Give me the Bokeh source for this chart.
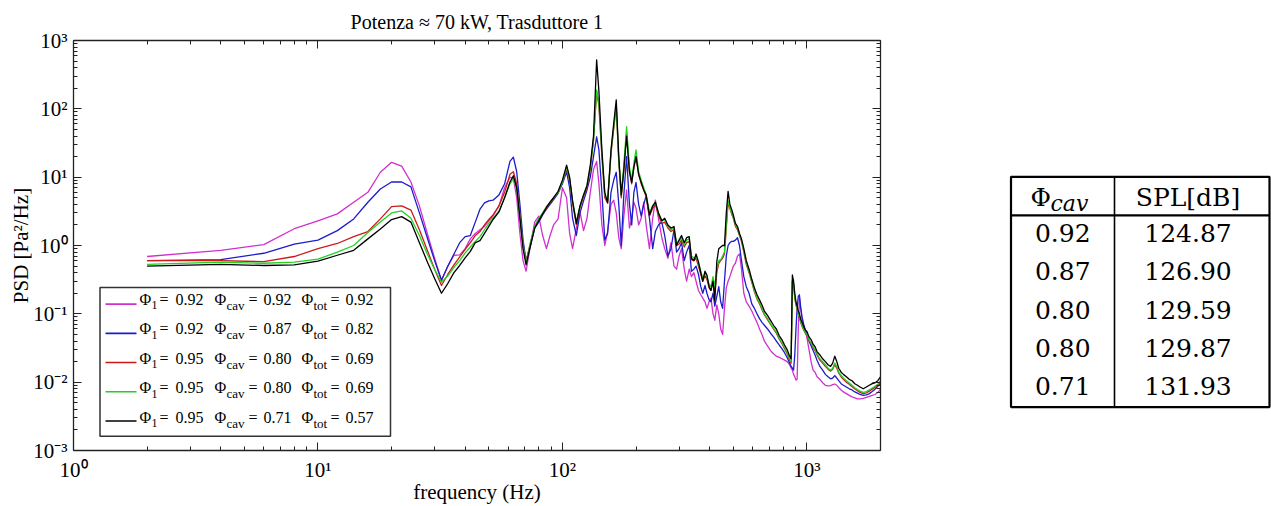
from math import pi, sqrt
from bokeh.plotting import figure
from bokeh.models import Range1d, LogAxis, FixedTicker, Label, CustomJSTickFormatter
from bokeh.layouts import row
from bokeh.embed import file_html
from bokeh.resources import INLINE
from bokeh.core.properties import value

# ---------------- data ----------------
freq = [2, 4, 6, 8, 10, 12, 14, 16, 18, 20,
        22, 24, 26, 28, 30, 32, 34, 36, 38, 40,
        42, 44, 46, 48, 50, 52, 55, 58, 61, 63,
        65, 67, 69, 71, 74, 77, 80, 83, 86, 89,
        92, 96, 100, 104, 107, 110, 114, 118, 122, 126,
        130, 134, 138, 141, 145, 149, 153, 158, 162, 166,
        170, 174, 178, 183, 188, 192, 196, 200, 205, 210,
        215, 220, 227, 234, 240, 247, 255, 262, 270, 278,
        286, 293, 300, 307, 315, 322, 330, 337, 345, 352,
        360, 368, 375, 383, 390, 398, 405, 413, 420, 428,
        436, 444, 452, 460, 468, 476, 484, 492, 500, 510,
        520, 530, 540, 552, 565, 580, 595, 610, 625, 640,
        655, 670, 690, 710, 730, 750, 770, 790, 810, 830,
        850, 862, 872, 882, 892, 902, 912, 922, 932, 942,
        955, 970, 985, 1000, 1020, 1040, 1060, 1080, 1100, 1130,
        1160, 1190, 1220, 1250, 1275, 1300, 1325, 1350, 1380, 1410,
        1450, 1490, 1530, 1570, 1610, 1650, 1700, 1750, 1800, 1850,
        1900, 1950, 2000]

psd_magenta = [0.69, 0.85, 1.03, 1.76, 2.3, 2.9, 4.3, 6.0, 11.8, 16.5,
               14.5, 8.5, 3.8, 1.5, 0.65, 0.31, 0.5, 0.72, 0.73, 0.9,
               1.25, 1.5, 1.7, 1.9, 2.3, 2.7, 3.8, 7, 10, 9.5,
               5, 1.5, 0.6, 0.42, 1.0, 2.2, 2.7, 1.4, 0.9, 1.4,
               2.0, 2.45, 7.0, 5.0, 1.5, 0.9, 1.8, 3.1, 1.65, 2.5,
               6, 13, 17, 8, 2, 1.0, 1.6, 4.0, 4.6, 3.0,
               1.3, 0.9, 2.5, 6.5, 1.8, 2.5, 4.3, 3.5, 2.0, 2.5,
               4.3, 2.0, 0.9, 2.5, 4.6, 2.5, 1.3, 0.9, 0.65, 1.1,
               0.5, 0.45, 0.7, 0.9, 0.45, 0.3, 0.45, 0.35, 0.4, 0.3,
               0.22, 0.19, 0.17, 0.15, 0.12, 0.15, 0.17, 0.1, 0.08, 0.135,
               0.1, 0.06, 0.05, 0.12, 0.24, 0.3, 0.35, 0.42, 0.5, 0.55,
               0.7, 0.75, 0.45, 0.2, 0.15, 0.13, 0.11, 0.09, 0.075, 0.06,
               0.05, 0.04, 0.034, 0.029, 0.026, 0.024, 0.023, 0.022, 0.021, 0.02,
               0.018, 0.016, 0.015, 0.013, 0.012, 0.0107, 0.011, 0.06, 0.17, 0.12,
               0.085, 0.068, 0.058, 0.045, 0.03, 0.02, 0.015, 0.014, 0.012, 0.011,
               0.0098, 0.009, 0.0088, 0.0089, 0.0092, 0.0094, 0.009, 0.0083, 0.0077, 0.0072,
               0.0068, 0.0064, 0.0061, 0.0059, 0.0057, 0.0057, 0.0058, 0.006, 0.0062, 0.0064,
               0.0066, 0.0071, 0.0078]

psd_blue = [0.60, 0.62, 0.77, 1.05, 1.2, 1.65, 2.45, 4.3, 6.7, 8.5,
            8.5, 7.2, 3.0, 1.3, 0.6, 0.31, 0.5, 0.75, 1.1, 1.35,
            1.4, 2.2, 3.4, 4.2, 4.5, 4.6, 5.5, 8.0, 17, 19.6,
            12, 4.0, 1.2, 0.6, 1.0, 1.8, 2.2, 2.8, 3.4, 4.0,
            4.7, 5.8, 8, 12, 7, 2.5, 1.4, 3.0, 4.5, 6.5,
            10, 20, 39, 25, 6, 1.2, 1.5, 6, 9, 11.8,
            4, 1.0, 5, 20, 4, 2, 6, 8.4, 4, 2.7,
            4, 5.3, 2.5, 0.9, 1.6, 2.0, 2.2, 1.4, 0.7, 0.9,
            1.7, 0.8, 0.9, 1.1, 0.6, 0.8, 1.0, 0.42, 0.45, 0.5,
            0.38, 0.25, 0.2, 0.26, 0.2, 0.16, 0.15, 0.2, 0.13, 0.18,
            0.25, 0.15, 0.12, 0.3, 0.7, 1.0, 1.1, 1.15, 1.15, 1.2,
            1.3, 1.0, 0.6, 0.35, 0.25, 0.2, 0.14, 0.12, 0.1, 0.085,
            0.075, 0.068, 0.06, 0.052, 0.046, 0.04, 0.035, 0.031, 0.027, 0.023,
            0.019, 0.017, 0.016, 0.015, 0.025, 0.06, 0.12, 0.18, 0.19, 0.13,
            0.09, 0.07, 0.058, 0.05, 0.04, 0.034, 0.029, 0.025, 0.021, 0.017,
            0.015, 0.013, 0.012, 0.0112, 0.0115, 0.0125, 0.0115, 0.0105, 0.0095, 0.009,
            0.0085, 0.008, 0.0077, 0.0072, 0.0069, 0.0066, 0.0064, 0.0065, 0.0068, 0.0073,
            0.0079, 0.0087, 0.0098]

psd_red = [0.60, 0.60, 0.58, 0.69, 0.9, 1.07, 1.35, 1.6, 2.45, 3.7,
           3.8, 3.3, 1.7, 0.85, 0.45, 0.26, 0.38, 0.52, 0.68, 0.88,
           1.1, 1.4, 1.6, 2.0, 2.4, 2.8, 3.8, 6.0, 11, 12,
           8, 2.8, 1.0, 0.58, 1.1, 1.9, 2.4, 2.9, 3.5, 4.2,
           4.9, 6.0, 8.5, 13, 9, 4.2, 2.0, 3.6, 5.2, 7,
           13, 35, 180, 110, 20, 5, 4.2, 22, 50, 110,
           17, 5, 12, 45, 12, 8, 14, 20, 11, 8,
           6.5, 5.2, 2.7, 3.5, 4.0, 2.8, 2.1, 2.2, 1.8, 1.6,
           1.7, 1.0, 1.05, 1.2, 0.95, 1.1, 1.15, 0.62, 0.6, 0.65,
           0.5, 0.38, 0.3, 0.36, 0.32, 0.24, 0.22, 0.3, 0.2, 0.4,
           0.55, 0.6, 0.65, 0.75, 1.8, 4.2, 3.5, 2.9, 2.5, 1.9,
           1.7, 1.4, 1.15, 0.8, 0.53, 0.4, 0.29, 0.21, 0.165, 0.14,
           0.115, 0.097, 0.082, 0.07, 0.06, 0.052, 0.043, 0.037, 0.031, 0.026,
           0.021, 0.019, 0.3, 0.27, 0.17, 0.135, 0.115, 0.098, 0.088, 0.076,
           0.066, 0.058, 0.052, 0.048, 0.041, 0.037, 0.032, 0.029, 0.025, 0.021,
           0.019, 0.017, 0.0155, 0.0145, 0.0155, 0.018, 0.016, 0.0135, 0.012, 0.011,
           0.01, 0.0093, 0.0086, 0.008, 0.0075, 0.0071, 0.0068, 0.007, 0.0074, 0.0079,
           0.0084, 0.009, 0.0102]

psd_green = [0.53, 0.57, 0.55, 0.57, 0.63, 0.8, 1.0, 1.55, 2.2, 3.0,
             3.2, 2.5, 1.4, 0.75, 0.45, 0.29, 0.36, 0.48, 0.6, 0.78,
             0.95, 1.15, 1.35, 1.7, 2.1, 2.5, 3.2, 5.0, 8.0, 9.5,
             6.8, 2.6, 1.0, 0.56, 1.1, 1.9, 2.5, 3.0, 3.7, 4.3,
             5.0, 6.0, 8.5, 14, 9.5, 4.5, 2.2, 3.8, 5.5, 7.5,
             14, 35, 190, 120, 22, 5.5, 4.5, 24, 55, 110,
             18, 5.5, 14, 55, 14, 9, 16, 25, 12, 9,
             7, 5.5, 3, 3.8, 4.2, 3, 2.3, 2.4, 1.9, 1.7,
             1.8, 1.1, 1.15, 1.3, 1.0, 1.2, 1.25, 0.7, 0.65, 0.7,
             0.55, 0.42, 0.33, 0.4, 0.35, 0.27, 0.25, 0.35, 0.25, 0.45,
             0.6, 0.62, 0.7, 0.8, 2.0, 4.5, 3.6, 3.0, 2.6, 2.0,
             1.8, 1.45, 1.2, 0.85, 0.56, 0.42, 0.3, 0.22, 0.17, 0.145,
             0.12, 0.1, 0.085, 0.072, 0.062, 0.054, 0.044, 0.038, 0.032, 0.027,
             0.022, 0.02, 0.3, 0.28, 0.18, 0.14, 0.12, 0.1, 0.09, 0.078,
             0.068, 0.06, 0.053, 0.05, 0.042, 0.038, 0.033, 0.03, 0.026, 0.022,
             0.02, 0.018, 0.016, 0.015, 0.016, 0.019, 0.017, 0.014, 0.0125, 0.0115,
             0.0105, 0.0097, 0.009, 0.0083, 0.0078, 0.0074, 0.0071, 0.0073, 0.0077, 0.0082,
             0.0087, 0.0093, 0.0105]

psd_black = [0.50, 0.53, 0.51, 0.52, 0.59, 0.72, 0.85, 1.25, 1.75, 2.4,
             2.65, 2.2, 1.1, 0.58, 0.33, 0.2, 0.28, 0.4, 0.51, 0.66,
             0.82, 1.1, 1.18, 1.5, 1.9, 2.4, 3.1, 5.0, 8.5, 10.5,
             7.0, 2.5, 0.9, 0.52, 1.0, 1.8, 2.3, 2.9, 3.6, 4.3,
             5.0, 6.2, 9.0, 15, 10, 4.5, 2.1, 3.8, 5.5, 7.5,
             15, 40, 520, 180, 25, 6, 4.2, 25, 60, 135,
             20, 5.5, 12, 40, 12, 8.4, 14, 20, 11, 8.4,
             6.5, 5.5, 2.8, 3.8, 4.3, 3.0, 2.3, 2.5, 2.0, 1.8,
             1.9, 1.0, 1.2, 1.4, 1.1, 1.3, 1.35, 0.65, 0.6, 0.75,
             0.58, 0.4, 0.3, 0.42, 0.37, 0.25, 0.22, 0.3, 0.155, 0.58,
             0.9, 0.95, 1.0, 1.0, 3.0, 6.2, 4.0, 3.4, 2.8, 2.1,
             1.9, 1.5, 1.25, 0.9, 0.6, 0.45, 0.32, 0.24, 0.19, 0.16,
             0.135, 0.11, 0.095, 0.08, 0.068, 0.06, 0.048, 0.042, 0.035, 0.03,
             0.024, 0.022, 0.37, 0.3, 0.2, 0.15, 0.13, 0.11, 0.1, 0.085,
             0.075, 0.065, 0.058, 0.055, 0.046, 0.042, 0.036, 0.033, 0.028, 0.025,
             0.022, 0.02, 0.018, 0.017, 0.019, 0.024, 0.02, 0.016, 0.014, 0.013,
             0.012, 0.011, 0.0105, 0.0095, 0.009, 0.0085, 0.008, 0.0085, 0.009, 0.0095,
             0.0098, 0.0105, 0.012]

series_colors = ["#d030d0", "#1c1cc8", "#cc1a1a", "#22d022", "#000000"]
phi_1 = ["0.92", "0.92", "0.95", "0.95", "0.95"]
phi_cav = ["0.92", "0.87", "0.80", "0.80", "0.71"]
phi_tot = ["0.92", "0.82", "0.69", "0.69", "0.57"]

table_phi_cav = ["0.92", "0.87", "0.80", "0.80", "0.71"]
table_spl = ["124.87", "126.90", "129.59", "129.87", "131.93"]

x_major = [1, 10, 100, 1000]
y_major = [0.001, 0.01, 0.1, 1, 10, 100, 1000]
x_tick_labels = ["10\u2070", "10\u00b9", "10\u00b2", "10\u00b3"]
y_tick_labels = ["10\u207b\u00b3", "10\u207b\u00b2", "10\u207b\u00b9", "10\u2070",
                 "10\u00b9", "10\u00b2", "10\u00b3"]

title_text = "Potenza \u2248 70 kW, Trasduttore 1"
xlabel_text = "frequency (Hz)"
ylabel_text = "PSD [Pa\u00b2/Hz]"

# ---------------- layout ----------------
XMIN, XMAX, YMIN, YMAX = 1, 2000, 1e-3, 1e3
W1, H = 960, 506
ML, MR, MT, MB = 73, 80, 40, 51
FW, FH = W1 - ML - MR, H - MT - MB
SERIF = "Liberation Serif"


def fx(px):  # pixels from frame left -> data x
    return XMIN * (XMAX / XMIN) ** (px / FW)


def fy(py):  # pixels from frame bottom -> data y
    return YMIN * (YMAX / YMIN) ** (py / FH)


p = figure(width=W1, height=H, x_axis_type="log", y_axis_type="log",
           x_range=Range1d(XMIN, XMAX), y_range=Range1d(YMIN, YMAX),
           output_backend="svg", toolbar_location=None,
           min_border_left=ML, min_border_right=MR,
           min_border_top=MT, min_border_bottom=MB)
p.grid.visible = False
p.outline_line_color = None
p.background_fill_color = "white"
p.border_fill_color = "white"

p.title.text = title_text
p.title.align = "center"
p.title.text_font = SERIF
p.title.text_font_size = "20px"
p.title.text_font_style = "normal"
p.title.text_color = "black"
p.title.standoff = 15

bottom_ax = p.below[0]
left_ax = p.left[0]
top_ax = LogAxis()
right_ax = LogAxis()
p.add_layout(top_ax, "above")
p.add_layout(right_ax, "right")

x_minor = [m * d for d in x_major for m in range(2, 10) if m * d <= XMAX]
y_minor = [m * d for d in y_major[:-1] for m in range(2, 10)]

for ax in (bottom_ax, top_ax):
    ax.ticker = FixedTicker(ticks=x_major, minor_ticks=x_minor)
for ax in (left_ax, right_ax):
    ax.ticker = FixedTicker(ticks=y_major, minor_ticks=y_minor)
for ax in (bottom_ax, top_ax, left_ax, right_ax):
    ax.formatter = CustomJSTickFormatter(code="return '';")
    ax.major_tick_in = 8
    ax.major_tick_out = 0
    ax.minor_tick_in = 4
    ax.minor_tick_out = 0
    ax.axis_line_color = "#222222"
    ax.axis_line_width = 1.3
    ax.major_tick_line_color = "#222222"
    ax.minor_tick_line_color = "#222222"
    ax.major_label_text_font = SERIF
    ax.major_label_text_color = "black"
    ax.major_label_text_font_size = "21px"
    ax.axis_label_text_font = SERIF
    ax.axis_label_text_font_size = "21px"
    ax.axis_label_text_font_style = "normal"
    ax.axis_label_text_color = "black"
for ax in (top_ax, right_ax):
    ax.major_label_text_font_size = "1px"
    ax.major_label_text_color = None
    ax.major_label_standoff = 0

bottom_ax.major_label_overrides = dict(zip(x_major, x_tick_labels))
left_ax.major_label_overrides = dict(zip(y_major, y_tick_labels))
bottom_ax.major_label_standoff = 7
left_ax.major_label_standoff = 6
bottom_ax.axis_label = xlabel_text
left_ax.axis_label = ylabel_text
bottom_ax.axis_label_standoff = -5
left_ax.axis_label_standoff = -3

all_series = [psd_magenta, psd_blue, psd_red, psd_green, psd_black]
for vals, col in zip(all_series, series_colors):
    p.line(freq, vals, line_color=col, line_width=1.3, line_join="round")

# legend (manual, to keep subscripts)
LEG_L, LEG_R, LEG_B, LEG_T = 26.5, 317, 14.5, 165
p.quad(left=[fx(LEG_L)], right=[fx(LEG_R)], bottom=[fy(LEG_B)], top=[fy(LEG_T)],
       fill_color="white", line_color="#333333", line_width=1.5)
for i, col in enumerate(series_colors):
    row_y = 151.5 - 29.6 * i          # px above frame bottom (text centre)
    line_y = row_y - 3.3
    p.line([fx(32), fx(63)], [fy(line_y), fy(line_y)], line_color=col, line_width=1.6)
    pieces = [(66, 0, "\u03a6", 16), (78, -6, "1", 12), (86, 0, "=", 16), (102, 0, phi_1[i], 16),
              (141, 0, "\u03a6", 16), (153, -6, "cav", 13), (175, 0, "=", 16), (190, 0, phi_cav[i], 16),
              (228, 0, "\u03a6", 16), (240, -6, "tot", 13), (257, 0, "=", 16), (272, 0, phi_tot[i], 16)]
    for dx, dy, txt, fs in pieces:
        p.add_layout(Label(x=XMIN, y=YMIN, text=txt, text_font=SERIF, text_color="black",
                           text_font_size=f"{fs}px", text_align="left",
                           text_baseline="middle", x_offset=dx, y_offset=row_y + dy))

# ---------------- table figure ----------------
W2 = 1271 - W1
p2 = figure(width=W2, height=H, x_range=Range1d(0, W2), y_range=Range1d(MT + FH, MT),
            output_backend="svg", toolbar_location=None,
            x_axis_location=None, y_axis_location=None, min_border=0)
p2.grid.visible = False
p2.outline_line_color = None
p2.background_fill_color = "white"
p2.border_fill_color = "white"

TL, TR, TT, TB, TCOL, THEAD = 50.5, 309, 178, 411, 154, 217
p2.quad(left=[TL], right=[TR], top=[TT], bottom=[TB], fill_color=None,
        line_color="black", line_width=2.2)
p2.segment(x0=[TCOL], y0=[TT], x1=[TCOL], y1=[TB], line_color="black", line_width=1.6)
p2.segment(x0=[TL], y0=[THEAD], x1=[TR], y1=[THEAD], line_color="black", line_width=2.2)

TF = "DejaVu Serif"
p2.text(x=[70], y=[199], text=["\u03a6"], text_font=value(TF), text_font_size="25px",
        text_align="left", text_baseline="middle")
p2.text(x=[90], y=[205], text=["cav"], text_font=value(TF), text_font_size="22px",
        text_font_style="italic", text_align="left", text_baseline="middle")
p2.text(x=[(TCOL + TR) / 2 - 4], y=[199], text=["SPL[dB]"], text_font=value(TF),
        text_font_size="25px", text_align="center", text_baseline="middle")
row_ys = [235 + 38.75 * i for i in range(len(table_spl))]
p2.text(x=[(TL + TCOL) / 2] * len(row_ys), y=row_ys, text=table_phi_cav,
        text_font=value(TF), text_font_size="25px", text_align="center",
        text_baseline="middle")
p2.text(x=[(TCOL + TR) / 2 - 4] * len(row_ys), y=row_ys, text=table_spl,
        text_font=value(TF), text_font_size="25px", text_align="center",
        text_baseline="middle")

layout = row(p, p2)
open("out.html", "w").write(file_html(layout, INLINE))
